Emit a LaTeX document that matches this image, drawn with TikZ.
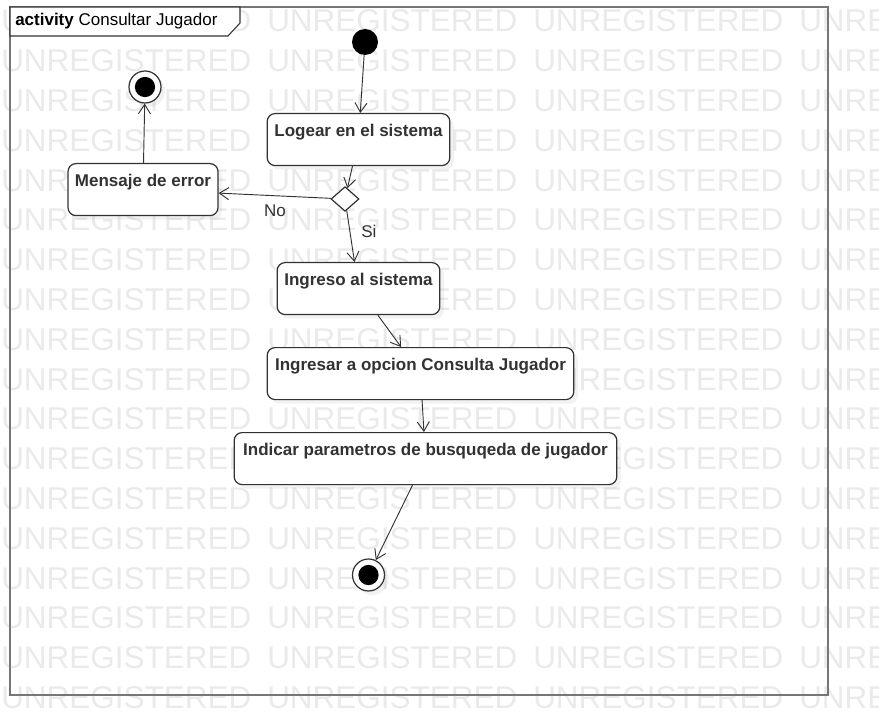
\documentclass[tikz,border=0pt]{standalone}
\usepackage{fontspec}
\setmainfont{Liberation Sans}
\usetikzlibrary{arrows.meta,shapes.geometric,shadows}

\definecolor{framegray}{RGB}{118,118,118}
\definecolor{linegray}{RGB}{50,50,50}
\definecolor{markgray}{RGB}{234,234,234}

\tikzset{
  watermark/.style={anchor=west, inner sep=0pt, text=markgray, font=\fontsize{23.6}{24}\selectfont},
  action/.style={draw=linegray, line width=0.9pt, fill=white, rounded corners=6pt, anchor=north,
    font=\fontsize{12.75}{15}\selectfont\bfseries, text=linegray, inner xsep=4pt, inner ysep=0pt,
    text height=17pt, text depth=22pt,
    drop shadow={shadow xshift=3pt, shadow yshift=-3pt, opacity=0.10}},
  startnode/.style={circle, fill=black, minimum size=19.5pt, inner sep=0pt},
  endnode/.style={circle, draw=linegray, line width=0.9pt, fill=white, minimum size=24pt, inner sep=0pt,
    path picture={\fill[black] (path picture bounding box.center) circle (7.6pt);},
    drop shadow={shadow xshift=3pt, shadow yshift=-3pt, opacity=0.10}},
  choice/.style={diamond, draw=linegray, line width=0.9pt, fill=white, minimum width=21pt, minimum height=18.5pt, inner sep=0pt},
  flow/.style={draw=linegray, line width=0.7pt, -{Straight Barb[length=7pt,width=9pt]}},
  guard/.style={font=\fontsize{12.75}{15}\selectfont, text=linegray}
}

\begin{document}
\begin{tikzpicture}[x=0.75pt,y=-0.75pt]
  \useasboundingbox (0,0) rectangle (879,713);

  % background watermark rows
  \begin{scope}
    \clip (0,0) rectangle (879,713);
    \foreach \row in {0,...,17}
      \foreach \col in {0,...,3}
        \node[watermark] at (1+266*\col, 21+39.8*\row) {UNREGISTERED};
  \end{scope}

  % activity frame and its name tab
  \draw[framegray, line width=1.6pt] (10,7) rectangle (828,695);
  \draw[linegray, line width=0.8pt, fill=white] (10,7) -- (240,7) -- (240,23) -- (228,36) -- (10,36) -- cycle;
  \node[anchor=west, inner sep=0pt, font=\fontsize{12.75}{15}\selectfont] (title) at (15,21)
    {\textbf{activity} Consultar Jugador};

  % nodes
  \node[startnode] (start) at (365,42) {};
  \node[action, minimum width=137pt] (login) at (358.5,113) {Logear en el sistema};
  \node[choice] (check) at (345,199) {};
  \node[action, minimum width=112.5pt] (error) at (143,163) {Mensaje de error};
  \node[endnode] (stopA) at (145,87) {};
  \node[action, minimum width=122pt] (enter) at (358.5,262) {Ingreso al sistema};
  \node[action, minimum width=230pt] (option) at (420.5,347) {Ingresar a opcion Consulta Jugador};
  \node[action, minimum width=287pt] (params) at (425.5,432) {Indicar parametros de busquqeda de jugador};
  \node[endnode] (stopB) at (368.5,575) {};

  % control flow
  \draw[flow] (start) -- (login);
  \draw[flow] (login) -- (check);
  \draw[flow] (check) -- node[guard, below=3pt, pos=0.5] {No} (error);
  \draw[flow] (error) -- (stopA);
  \draw[flow] (check) -- node[guard, right=5pt, pos=0.4] {Si} (enter);
  \draw[flow] (enter) -- (option);
  \draw[flow] (option) -- (params);
  \draw[flow] (params) -- (stopB);
\end{tikzpicture}
\end{document}
